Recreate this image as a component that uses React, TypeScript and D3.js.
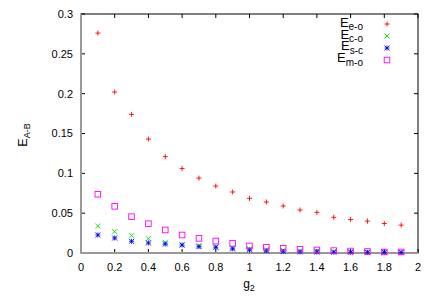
import React from "react";
import * as d3 from "d3";

const g2 = [0.1, 0.2, 0.3, 0.4, 0.5, 0.6, 0.7, 0.8, 0.9, 1.0, 1.1, 1.2, 1.3, 1.4, 1.5, 1.6, 1.7, 1.8, 1.9];
const eEO = [0.276, 0.202, 0.174, 0.143, 0.121, 0.106, 0.094, 0.084, 0.0766, 0.0686, 0.064, 0.059, 0.054, 0.051, 0.0448, 0.042, 0.040, 0.037, 0.035];
const eCO = [0.0339, 0.0268, 0.0218, 0.018, 0.0134, 0.0105, 0.0092, 0.0078, 0.0062, 0.0052, 0.0042, 0.0034, 0.0028, 0.0024, 0.002, 0.0016, 0.0013, 0.0011, 0.001];
const eSC = [0.0226, 0.0188, 0.0147, 0.0126, 0.0113, 0.010, 0.008, 0.0072, 0.0052, 0.004, 0.0028, 0.0019, 0.0015, 0.0012, 0.001, 0.0009, 0.0008, 0.0007, 0.0006];
const eMO = [0.0737, 0.0586, 0.0456, 0.0368, 0.0289, 0.0226, 0.0184, 0.015, 0.0121, 0.0088, 0.0071, 0.0059, 0.0047, 0.0038, 0.003, 0.0025, 0.0019, 0.0013, 0.0013];
const xTicks = [0, 0.2, 0.4, 0.6, 0.8, 1, 1.2, 1.4, 1.6, 1.8, 2];
const yTicks = [0, 0.05, 0.1, 0.15, 0.2, 0.25, 0.3];
const legendSubs = ["e-o", "c-o", "s-c", "m-o"];

const font = "'Liberation Sans', Arial, sans-serif";

const Marker = ({ kind, x, y, color }: { kind: string; x: number; y: number; color: string }) => {
    const r = 2.5;
    if (kind === "plus") {
        return <path d={`M${x - r},${y}H${x + r}M${x},${y - r}V${y + r}`} stroke={color} strokeWidth={0.9} fill="none"/>;
    }
    if (kind === "cross") {
        return <path d={`M${x - r},${y - r}L${x + r},${y + r}M${x - r},${y + r}L${x + r},${y - r}`} stroke={color} strokeWidth={0.9} fill="none"/>;
    }
    if (kind === "star") {
        return <path d={`M${x - r},${y}H${x + r}M${x},${y - r}V${y + r}M${x - r},${y - r}L${x + r},${y + r}M${x - r},${y + r}L${x + r},${y - r}`} stroke={color} strokeWidth={0.9} fill="none"/>;
    }
    return <rect x={x - 2.8} y={y - 2.8} width={5.6} height={5.6} stroke={color} strokeWidth={0.9} fill="none"/>;
};

export default function App() {
    const width = 436;
    const height = 305;
    const left = 81, right = 418, top = 14, bottom = 253;

    const x = d3.scaleLinear().domain([0, 2]).range([left, right]);
    const y = d3.scaleLinear().domain([0, 0.3]).range([bottom, top]);

    const series = [
        { values: eEO, kind: "plus", color: "#ff0000" },
        { values: eCO, kind: "cross", color: "#00e000" },
        { values: eSC, kind: "star", color: "#0000ff" },
        { values: eMO, kind: "square", color: "#ff00ff" },
    ];

    return (
        <svg width={width} height={height} style={{ position: "absolute", left: 0, top: 0, background: "#fff" }}>
            <rect x={0} y={0} width={width} height={height} fill="#fff"/>
            <rect x={left} y={top} width={right - left} height={bottom - top} fill="none" stroke="#000" strokeWidth={1}/>
            {xTicks.map(t => (
                <g key={"x" + t}>
                    <line x1={x(t)} x2={x(t)} y1={bottom} y2={bottom - 4} stroke="#000"/>
                    <line x1={x(t)} x2={x(t)} y1={top} y2={top + 4} stroke="#000"/>
                    <text x={x(t)} y={271} textAnchor="middle" fontFamily={font} fontSize={11} fill="#000">{d3.format("")(t)}</text>
                </g>
            ))}
            {yTicks.map(t => (
                <g key={"y" + t}>
                    <line x1={left} x2={left + 4} y1={y(t)} y2={y(t)} stroke="#000"/>
                    <line x1={right} x2={right - 4} y1={y(t)} y2={y(t)} stroke="#000"/>
                    <text x={73} y={y(t)} dy="0.35em" textAnchor="end" fontFamily={font} fontSize={11} fill="#000">{d3.format("")(t)}</text>
                </g>
            ))}
            <line x1={x(0)} x2={x(0)} y1={top} y2={bottom} stroke="#999" strokeWidth={2}/>
            <line x1={left} x2={right} y1={y(0)} y2={y(0)} stroke="#999" strokeWidth={2}/>
            {series.map((s, si) => (
                <g key={si}>
                    {s.values.map((v, i) => (
                        <Marker key={i} kind={s.kind} x={x(g2[i])} y={y(v)} color={s.color}/>
                    ))}
                </g>
            ))}
            {series.map((s, si) => (
                <g key={"l" + si}>
                    <text x={363} y={26.7 + si * 11.8} textAnchor="end" fontFamily={font} fill="#000">
                        <tspan fontSize={13}>E</tspan>
                        <tspan fontSize={10} dy={3.5}>{legendSubs[si]}</tspan>
                    </text>
                    <Marker kind={s.kind} x={387} y={24 + si * 12} color={s.color}/>
                </g>
            ))}
            <text x={249} y={288} textAnchor="middle" fontFamily={font} fill="#000">
                <tspan fontSize={12}>g</tspan>
                <tspan fontSize={9} dy={2.5}>2</tspan>
            </text>
            <text transform="translate(27,135) rotate(-90)" textAnchor="middle" fontFamily={font} fill="#000">
                <tspan fontSize={12.5}>E</tspan>
                <tspan fontSize={9} dy={3}>A-B</tspan>
            </text>
        </svg>
    );
}
